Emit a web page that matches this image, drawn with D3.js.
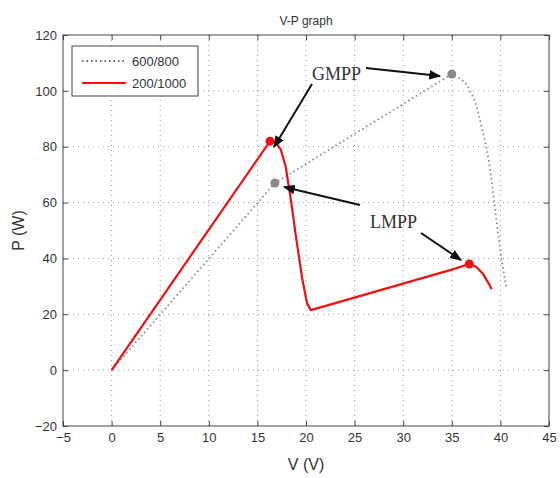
<!DOCTYPE html>
<html><head><meta charset="utf-8">
<script src="https://cdn.jsdelivr.net/npm/d3@7"></script>
<style>body{margin:0;background:#fff}</style>
</head><body><div id="chart"></div>
<script>
const seriesNames = ["600/800", "200/1000"];
const grayV = [0, 16.8, 35, 36, 37, 38, 38.8, 39.3, 39.8, 40.2, 40.6];
const grayP = [0, 67, 106, 104, 99, 88, 75, 62, 48, 38, 30];
const redV = [0, 16.3, 16.9, 17.4, 17.9, 18.4, 19, 19.6, 20.1, 20.5, 35, 36.8, 37.5, 38.2, 38.8, 39.1];
const redP = [0, 82, 81.5, 79, 73, 62, 47, 33, 24, 21.5, 36, 38, 37, 34.5, 31, 29];
const grayMarks = [[35, 106], [16.8, 67]];
const redMarks = [[16.3, 82], [36.8, 38]];
const xTicks = [-5, 0, 5, 10, 15, 20, 25, 30, 35, 40, 45];
const yTicks = [-20, 0, 20, 40, 60, 80, 100, 120];

const W = 560, H = 478;
const m = {left: 63, right: 11, top: 35, bottom: 52};
const svg = d3.select("#chart").append("svg").attr("width", W).attr("height", H)
    .style("font-family", "'Liberation Sans', Arial, sans-serif");
const x = d3.scaleLinear().domain([-5, 45]).range([m.left, W - m.right]);
const y = d3.scaleLinear().domain([-20, 120]).range([H - m.bottom, m.top]);

// grid
svg.append("g").selectAll("line").data(xTicks.slice(1, -1)).join("line")
    .attr("x1", d => x(d)).attr("x2", d => x(d)).attr("y1", y(-20)).attr("y2", y(120))
    .attr("stroke", "#999").attr("stroke-dasharray", "1,4");
svg.append("g").selectAll("line").data(yTicks.slice(1, -1)).join("line")
    .attr("y1", d => y(d)).attr("y2", d => y(d)).attr("x1", x(-5)).attr("x2", x(45))
    .attr("stroke", "#999").attr("stroke-dasharray", "1,4");

svg.append("rect").attr("x", x(-5)).attr("y", y(120)).attr("width", x(45) - x(-5))
    .attr("height", y(-20) - y(120)).attr("fill", "none").attr("stroke", "#444");

const xAxis = svg.append("g").attr("transform", `translate(0,${y(-20)})`)
    .call(d3.axisBottom(x).tickValues(xTicks).tickSize(-5).tickPadding(7).tickFormat(d3.format("d")));
const yAxis = svg.append("g").attr("transform", `translate(${x(-5)},0)`)
    .call(d3.axisLeft(y).tickValues(yTicks).tickSize(-5).tickPadding(6));
[xAxis, yAxis].forEach(a => {
    a.select(".domain").remove();
    a.selectAll("line").attr("stroke", "#444");
    a.selectAll("text").attr("font-size", 13).attr("fill", "#333").attr("font-family", "'Liberation Sans', Arial");
});
svg.append("g").attr("transform", `translate(${x(45)},0)`)
    .call(d3.axisRight(y).tickValues(yTicks).tickSize(-5).tickFormat(""))
    .call(g => { g.select(".domain").remove(); g.selectAll("line").attr("stroke", "#444"); });
svg.append("g").attr("transform", `translate(0,${y(120)})`)
    .call(d3.axisTop(x).tickValues(xTicks).tickSize(-5).tickFormat(""))
    .call(g => { g.select(".domain").remove(); g.selectAll("line").attr("stroke", "#444"); });

const line = d3.line().x(d => x(d[0])).y(d => y(d[1])).curve(d3.curveMonotoneY);
const lineL = d3.line().x(d => x(d[0])).y(d => y(d[1]));
const gray = grayV.map((v, i) => [v, grayP[i]]);
const red = redV.map((v, i) => [v, redP[i]]);
svg.append("path").attr("d", lineL(gray.slice(0, 3)) + line(gray.slice(2)).replace(/^M/, "L"))
    .attr("fill", "none").attr("stroke", "#888").attr("stroke-width", 1.8).attr("stroke-dasharray", "1.5,3");
svg.append("path").attr("d", lineL(red))
    .attr("fill", "none").attr("stroke", "#f01010").attr("stroke-width", 2.2).attr("stroke-linejoin", "round");

svg.selectAll(".gm").data(grayMarks).join("circle").attr("cx", d => x(d[0])).attr("cy", d => y(d[1]))
    .attr("r", 4.5).attr("fill", "#888");
svg.selectAll(".rm").data(redMarks).join("circle").attr("cx", d => x(d[0])).attr("cy", d => y(d[1]))
    .attr("r", 4.5).attr("fill", "#f01010");

// annotations
svg.append("defs").append("marker").attr("id", "ah").attr("viewBox", "0 0 10 10").attr("refX", 9).attr("refY", 5)
    .attr("markerWidth", 6).attr("markerHeight", 6).attr("orient", "auto")
    .append("path").attr("d", "M0,1L10,5L0,9z").attr("fill", "#111");
const arrows = [[312, 84, 274, 147], [366, 68, 440, 76], [360, 205, 284, 187], [421, 233, 461, 260]];
svg.selectAll(".ar").data(arrows).join("line")
    .attr("x1", d => d[0]).attr("y1", d => d[1]).attr("x2", d => d[2]).attr("y2", d => d[3])
    .attr("stroke", "#111").attr("stroke-width", 2).attr("marker-end", "url(#ah)");
svg.append("text").attr("x", 312).attr("y", 80).text("GMPP")
    .attr("font-family", "'Liberation Serif', serif").attr("font-size", 18).attr("fill", "#333");
svg.append("text").attr("x", 370).attr("y", 228).text("LMPP")
    .attr("font-family", "'Liberation Serif', serif").attr("font-size", 18).attr("fill", "#333");

// legend
const lg = svg.append("g").attr("transform", "translate(72,46)");
lg.append("rect").attr("width", 126).attr("height", 50).attr("fill", "#fff").attr("stroke", "#444");
seriesNames.forEach((n, i) => {
    lg.append("line").attr("x1", 10).attr("x2", 54).attr("y1", 15 + i * 22).attr("y2", 15 + i * 22)
        .attr("stroke", i ? "#f01010" : "#666").attr("stroke-width", i ? 2.2 : 1.8)
        .attr("stroke-dasharray", i ? null : "1.5,3");
    lg.append("text").attr("x", 60).attr("y", 20 + i * 22).text(n).attr("font-size", 13).attr("fill", "#333");
});

svg.append("text").attr("x", (x(-5) + x(45)) / 2).attr("y", 25).attr("text-anchor", "middle")
    .attr("font-size", 12).attr("fill", "#333").text("V-P graph");
svg.append("text").attr("x", (x(-5) + x(45)) / 2).attr("y", 470).attr("text-anchor", "middle")
    .attr("font-size", 16).attr("fill", "#333").text("V (V)");
svg.append("text").attr("transform", `translate(24,${(y(-20) + y(120)) / 2}) rotate(-90)`)
    .attr("text-anchor", "middle").attr("font-size", 16).attr("fill", "#333").text("P (W)");
</script></body></html>
